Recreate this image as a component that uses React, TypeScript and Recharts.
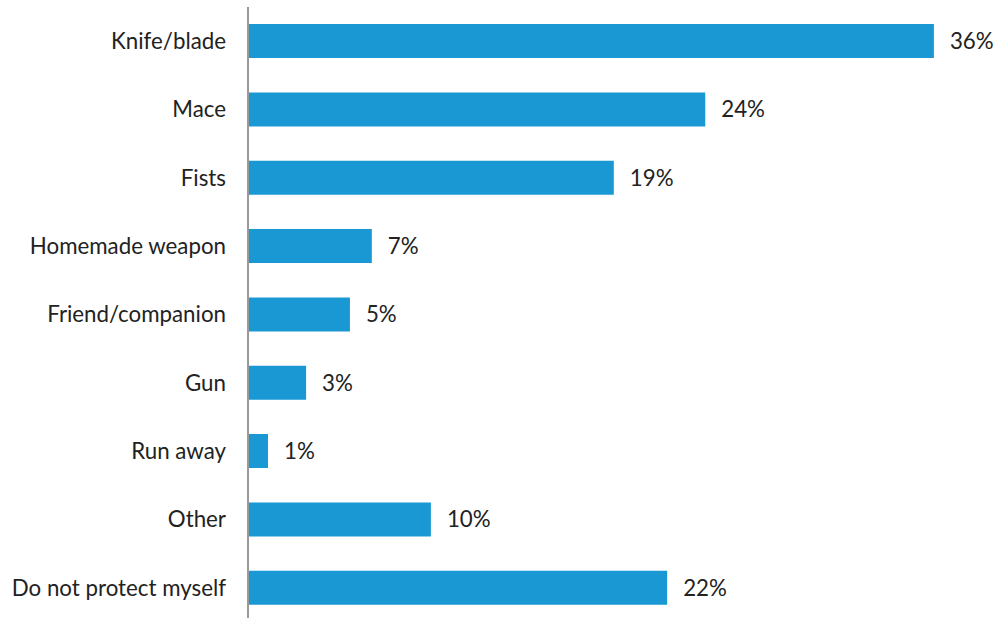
import React from "react";
import { BarChart, Bar, XAxis, YAxis, LabelList } from "recharts";

const categories = [
  "Knife/blade",
  "Mace",
  "Fists",
  "Homemade weapon",
  "Friend/companion",
  "Gun",
  "Run away",
  "Other",
  "Do not protect myself",
];
const values = [36, 24, 19.2, 6.5, 5.35, 3.05, 1.05, 9.6, 22];
const valueLabels = ["36%", "24%", "19%", "7%", "5%", "3%", "1%", "10%", "22%"];

const data = categories.map((name, i) => ({
  name,
  value: values[i],
  label: valueLabels[i],
}));

const FONT = "Lato, 'Noto Sans', sans-serif";

export default function App() {
  return (
    <div
      style={{
        position: "absolute",
        top: 0,
        left: 0,
        width: 998,
        height: 618,
        overflow: "hidden",
        background: "#fff",
      }}
    >
      <BarChart
        width={998}
        height={630}
        data={data}
        layout="vertical"
        margin={{ top: 7, right: 26, bottom: 8, left: 0 }}
        barCategoryGap="25%"
      >
        <XAxis type="number" domain={[0, 38]} hide />
        <YAxis
          type="category"
          dataKey="name"
          width={248}
          tickLine={false}
          tickSize={0}
          tickMargin={22}
          axisLine={{ stroke: "#999999", strokeWidth: 2 }}
          tick={{ fontFamily: FONT, fontSize: 22.3, fontWeight: 400, fill: "#222222" }}
          interval={0}
        />
        <Bar dataKey="value" fill="#1a98d4" isAnimationActive={false}>
          <LabelList
            dataKey="label"
            position="right"
            offset={16}
            style={{ fontFamily: FONT, fontSize: 22.3, fontWeight: 400, fill: "#222222" }}
          />
        </Bar>
      </BarChart>
    </div>
  );
}
